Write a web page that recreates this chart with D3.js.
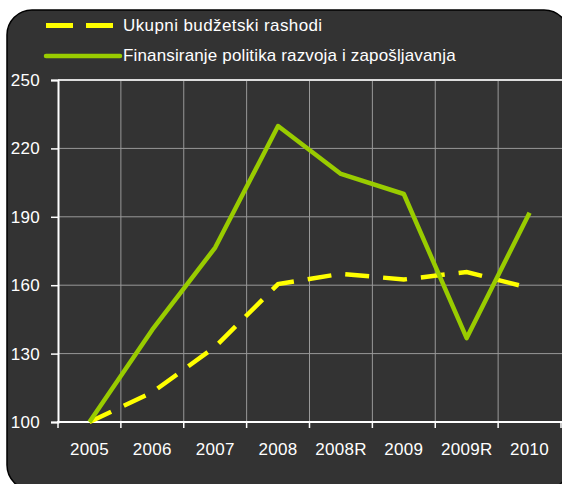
<!DOCTYPE html>
<html><head><meta charset="utf-8">
<script src="https://cdn.jsdelivr.net/npm/d3@7"></script>
<style>body{margin:0;background:#fff}svg{display:block}text{font-family:"Liberation Sans",Arial,sans-serif}</style>
</head><body>
<svg id="c" width="562" height="484"></svg>
<script>
const categories = ["2005","2006","2007","2008","2008R","2009","2009R","2010"];
const budget = [100,113,133,160.5,165,162.5,165.8,158.8];
const policy = [100,140.5,176.5,229.8,208.8,200,136.8,191.8];
const yTicks = [100,130,160,190,220,250];
const seriesNames = ["Ukupni budžetski rashodi","Finansiranje politika razvoja i zapošljavanja"];

const svg = d3.select("#c");
svg.append("rect").attr("x",7).attr("y",10).attr("width",562).attr("height",480)
  .attr("rx",25).attr("fill","#333333").attr("stroke","#000").attr("stroke-width",1.5);

const L=58, R=561, T=80, B=422;
const FS = 17;
const x = d3.scaleBand().domain(categories).range([L,R]);
const y = d3.scaleLinear().domain([100,250]).range([B,T]);

// grid
svg.append("g").selectAll("line").data(yTicks.slice(1,-1)).join("line")
  .attr("x1",L).attr("x2",R+2).attr("y1",d=>y(d)).attr("y2",d=>y(d))
  .attr("stroke","#999").attr("stroke-width",1);
svg.append("g").selectAll("line").data(categories.slice(1)).join("line")
  .attr("x1",d=>x(d)).attr("x2",d=>x(d)).attr("y1",T).attr("y2",B)
  .attr("stroke","#999").attr("stroke-width",1);
svg.append("line").attr("x1",L).attr("x2",R+2).attr("y1",T).attr("y2",T).attr("stroke","#ddd").attr("stroke-width",2);

// y axis
const ya = svg.append("g").attr("transform",`translate(${L},0)`)
  .call(d3.axisLeft(y).tickValues(yTicks).tickSize(7).tickPadding(11));
ya.select(".domain").attr("stroke","#fff").attr("stroke-width",2);
ya.selectAll(".tick line").attr("stroke","#fff").attr("stroke-width",1.5);
ya.selectAll("text").attr("fill","#fff").attr("font-size",FS).attr("letter-spacing",0.3).attr("font-family","Liberation Sans, Arial, sans-serif");

// x axis
const xa = svg.append("g").attr("transform",`translate(0,${B})`)
  .call(d3.axisBottom(x).tickSize(0).tickPadding(21));
xa.select(".domain").remove();
svg.append("line").attr("x1",L-1).attr("x2",R+2).attr("y1",B).attr("y2",B).attr("stroke","#fff").attr("stroke-width",2);
svg.append("g").selectAll("line").data(categories.concat(["end"])).join("line")
  .attr("x1",(d,i)=>L+i*x.step()).attr("x2",(d,i)=>L+i*x.step()).attr("y1",B).attr("y2",B+6)
  .attr("stroke","#fff").attr("stroke-width",1.5);
xa.selectAll("text").attr("fill","#fff").attr("font-size",FS).attr("letter-spacing",0.3).attr("font-family","Liberation Sans, Arial, sans-serif");

const line = d3.line().x((d,i)=>x(categories[i])+x.bandwidth()/2).y(d=>y(d));
svg.append("path").datum(budget).attr("d",line).attr("fill","none")
  .attr("stroke","#ffff00").attr("stroke-width",4.5).attr("stroke-dasharray","24,14");
svg.append("path").datum(policy).attr("d",line).attr("fill","none")
  .attr("stroke","#99cc00").attr("stroke-width",4.5).attr("stroke-linejoin","round");

// legend
const lg = svg.append("g");
lg.append("line").attr("x1",46).attr("x2",113).attr("y1",25.5).attr("y2",25.5)
  .attr("stroke","#ffff00").attr("stroke-width",5).attr("stroke-dasharray","27,13");
lg.append("line").attr("x1",46).attr("x2",120).attr("y1",56).attr("y2",56)
  .attr("stroke","#99cc00").attr("stroke-width",4.5).attr("stroke-linecap","round");
lg.append("text").attr("x",123).attr("y",30.5).attr("fill","#fff").attr("font-size",FS).attr("letter-spacing",0.4).text(seriesNames[0]);
lg.append("text").attr("x",123).attr("y",60.5).attr("fill","#fff").attr("font-size",FS).attr("letter-spacing",0.15).text(seriesNames[1]);
</script>
</body></html>
